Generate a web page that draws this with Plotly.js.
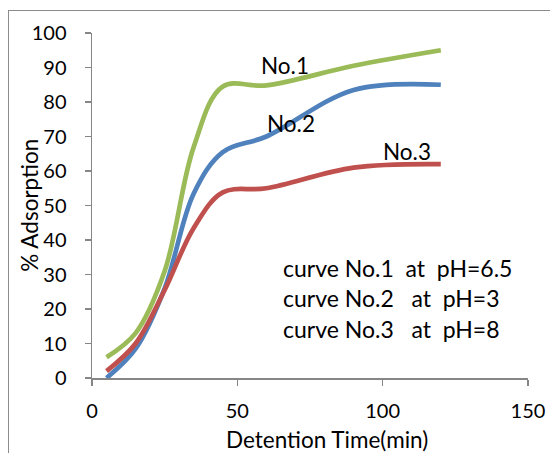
<!DOCTYPE html>
<html>
<head>
<meta charset="utf-8">
<script src="https://cdn.plot.ly/plotly-3.0.1.min.js"></script>
<style>
  html, body { margin: 0; padding: 0; background: #fff; }
  #frame { position: absolute; left: 8px; top: 10px; width: 560px; height: 460px;
           border-top: 1.5px solid #8c8c8c; border-left: 1.5px solid #8c8c8c; pointer-events: none; }
  #chart { position: absolute; left: 0; top: 0; width: 550px; height: 453px; }
</style>
</head>
<body>
<div id="chart"></div>
<div id="frame"></div>
<script>
// Detention time (min)
const times = [5, 15, 25, 35, 45, 60, 90, 120];
// % Adsorption
const curve1 = [6, 13, 31, 67, 84.5, 84.8, 90.5, 95];     // pH=6.5
const curve2 = [0, 8.5, 26, 53.5, 65.5, 70, 83.5, 85];    // pH=3
const curve3 = [2, 10, 25.5, 43.5, 53.8, 55, 61, 62];     // pH=8

const names = ['No.1', 'No.2', 'No.3'];
const legendLines = ['curve No.1  at  pH=6.5', 'curve No.2   at  pH=3', 'curve No.3   at  pH=8'];
const xTitle = 'Detention Time(min)';
const yTitle = '% Adsorption';
const colors = ['#9BBB59', '#4F81BD', '#C0504D'];
const series = [curve1, curve2, curve3];

const FONT = 'Lato, "Open Sans", sans-serif';
const nb = s => s.replace(/ /g, '\u00a0');

const traces = series.map((ys, i) => ({
  x: times, y: ys, type: 'scatter', mode: 'lines', name: names[i],
  line: {color: colors[i], width: 4.7, shape: 'spline', smoothing: 1},
  hoverinfo: 'x+y'
}));

const annotations = [
  {x: 66.5, y: 90.6, text: names[0]},
  {x: 68.5, y: 73.8, text: names[1]},
  {x: 108.5, y: 65.6, text: names[2]}
].map(a => Object.assign(a, {xref: 'x', yref: 'y', showarrow: false,
  font: {family: FONT, size: 22.5, color: '#000'}}));

legendLines.forEach((t, i) => {
  annotations.push({x: 65, y: 32 - i * 8.9, xref: 'x', yref: 'y', text: nb(t),
    showarrow: false, xanchor: 'left', yanchor: 'middle',
    font: {family: FONT, size: 23, color: '#000'}});
});

// axis titles placed like the reference (Excel-style offsets)
annotations.push({xref: 'paper', yref: 'paper', x: 0.539, y: -0.178, text: xTitle,
  showarrow: false, xanchor: 'center', yanchor: 'middle',
  font: {family: FONT, size: 22.5, color: '#000'}});
annotations.push({xref: 'paper', yref: 'paper', x: -0.144, y: 0.5, text: yTitle,
  showarrow: false, xanchor: 'center', yanchor: 'middle', textangle: -90,
  font: {family: FONT, size: 22.5, color: '#000'}});

const layout = {
  width: 550, height: 453,
  margin: {l: 92, r: 22, t: 33, b: 75},
  paper_bgcolor: '#fff', plot_bgcolor: '#fff',
  showlegend: false,
  font: {family: FONT, size: 19, color: '#000'},
  xaxis: {
    range: [0, 150], dtick: 50, tick0: 0,
    showgrid: false, zeroline: false,
    showline: true, linecolor: '#868686', linewidth: 1.5,
    ticks: 'outside', ticklen: 6, tickcolor: '#868686', tickwidth: 1.5,
    ticklabelstandoff: 8,
    tickfont: {family: FONT, size: 20, color: '#000'}
  },
  yaxis: {
    range: [0, 100], dtick: 10, tick0: 0,
    showgrid: false, zeroline: false,
    showline: true, linecolor: '#868686', linewidth: 1.5,
    ticks: 'outside', ticklen: 6, tickcolor: '#868686', tickwidth: 1.5,
    ticklabelstandoff: 14,
    tickfont: {family: FONT, size: 20, color: '#000'}
  },
  annotations: annotations
};

Plotly.newPlot('chart', traces, layout, {displayModeBar: false, staticPlot: true});
</script>
</body>
</html>
